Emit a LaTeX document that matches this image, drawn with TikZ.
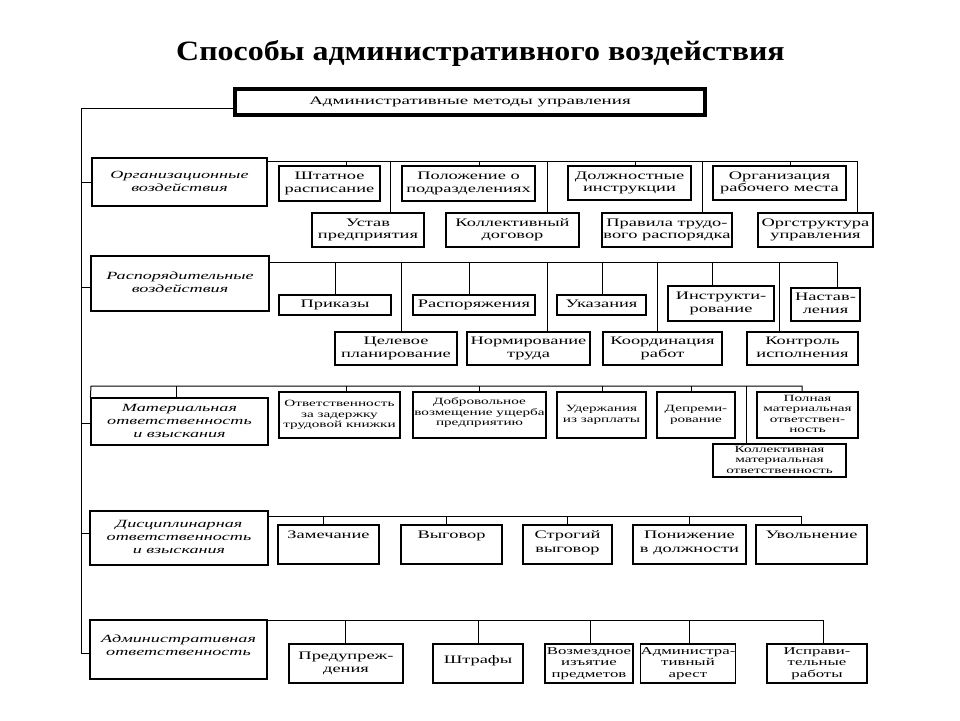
\documentclass[tikz,border=0pt]{standalone}
\usepackage{fontspec}
\setmainfont{Liberation Serif}
\usepackage{graphicx}
\newcommand\tx[2][1.6]{\scalebox{#1}[1]{\begin{tabular}{@{}c@{}}#2\end{tabular}}}
\newcommand\ti[1]{\scalebox{1.65}[1]{\begin{tabular}{@{}c@{}}#1\end{tabular}}}
\begin{document}
\begin{tikzpicture}[x=1pt,y=-1pt,
  bx/.style n args={2}{draw, line width=1.2pt, inner sep=0pt, minimum width=#1pt, minimum height=#2pt,
     font=\fontsize{11.5}{12.5}\selectfont},
  sm/.style={font=\fontsize{9.5}{10.5}\selectfont},
  cat/.style={font=\fontsize{11}{13}\selectfont\itshape},
  lbl/.style={inner sep=0pt, font=\fontsize{11.5}{13.5}\selectfont},
  ln/.style={line width=1pt}]
\useasboundingbox[fill=white] (0,0) rectangle (960,720);

\node[font=\fontsize{28}{30}\selectfont\bfseries, anchor=base] (title) at (480.5,60) {\scalebox{1.14}[1]{Способы административного воздействия}};

% top box
\node[draw, line width=4pt, minimum width=470pt, minimum height=26pt, inner sep=0pt,
      font=\fontsize{11.5}{12.5}\selectfont] (top) at (470,102) {\tx[1.65]{Административные методы управления}};

% category boxes
\node[bx={175}{48}, cat] (org)  at (179.5,182)   {\ti{Организационные\\воздействия}};
\node[bx={178}{55}, cat] (rasp) at (180,283.5)   {\ti{Распорядительные\\воздействия}};
\node[bx={177}{47}, cat] (mat)  at (179.5,421.5) {\ti{Материальная\\ответственность\\и взыскания}};
\node[bx={178}{54}, cat] (disc) at (179,538)     {\ti{Дисциплинарная\\ответственность\\и взыскания}};
\node[bx={177}{59}, cat] (adm)  at (178.5,649.5) {\ti{Административная\\ответственность\\[6pt]}};

% row 1
\node[bx={101}{35}] (shtat)   at (329.5,183.5) {\tx{Штатное\\расписание}};
\node[bx={133}{35}] (polo)    at (468.5,183.5) {\tx{Положение о\\подразделениях}};
\node[bx={123}{34}] (dolzh)   at (629.5,183)   {\tx{Должностные\\инструкции}};
\node[bx={133}{34}] (orgrab)  at (779.5,183)   {\tx{Организация\\рабочего места}};
\node[bx={112}{34}] (ustav)   at (368,230)     {\tx{Устав\\предприятия}};
\node[bx={133}{34}] (koll)    at (512.5,230)   {\tx{Коллективный\\договор}};
\node[bx={130}{34}] (pravila) at (667,230)     {\tx{Правила трудо-\\вого распорядка}};
\node[bx={115}{34}] (orgstr)  at (815.5,230)   {\tx{Оргструктура\\управления}};

% row 2
\node[bx={112}{20}] (prikazy)    at (335,305)     {\tx{Приказы}};
\node[bx={122}{20}] (rasporyazh) at (474,305)     {\tx{Распоряжения}};
\node[bx={89}{20}]  (ukaz)       at (601.5,305)   {\tx{Указания}};
\node[bx={106}{35}] (instr)      at (721,303.5)   {\tx{Инструкти-\\рование}};
\node[bx={69}{33}]  (nastav)     at (825.5,304.5) {\tx{Настав-\\ления}};
\node[bx={122}{33}] (celevoe)    at (396,348.5)   {\tx{Целевое\\планирование}};
\node[bx={123}{33}] (normir)     at (528.5,348.5) {\tx{Нормирование\\труда}};
\node[bx={119}{33}] (koord)      at (662.5,348.5) {\tx{Координация\\работ}};
\node[bx={111}{33}] (kontrol)    at (802.5,348.5) {\tx{Контроль\\исполнения}};

% row 3
\node[bx={121}{46}, sm] (otv)     at (339.5,415) {\tx{Ответственность\\за задержку\\трудовой книжки}};
\node[bx={133}{46}, sm] (dobr)    at (479.5,415) {\tx{Добровольное\\возмещение ущерба\\предприятию\\[4pt]}};
\node[bx={89}{46}, sm]  (uderzh)  at (601.5,415) {\tx{Удержания\\из зарплаты\\ }};
\node[bx={78}{46}, sm]  (deprem)  at (696,415)   {\tx{Депреми-\\рование\\ }};
\node[bx={101}{46}, sm] (poln)    at (807.5,415) {\tx{Полная\\материальная\\ответствен-\\ность}};
\node[bx={133}{33}, sm] (kollmat) at (779.5,460.5) {\tx{Коллективная\\материальная\\ответственность}};

% row 4
\node[bx={101}{39}] (zam)    at (328.5,544.5) {};
\node[bx={101}{39}] (vyg)    at (451.5,544.5) {};
\node[bx={89}{39}]  (strog)  at (567.5,544.5) {};
\node[bx={113}{39}] (ponizh) at (689.5,544.5) {};
\node[bx={111}{39}] (uvol)   at (811.5,544.5) {};
\node[lbl, anchor=north] (zamT)    at ([yshift=-4.5pt]zam.north)    {\tx{Замечание}};
\node[lbl, anchor=north] (vygT)    at ([yshift=-4.5pt]vyg.north)    {\tx{Выговор}};
\node[lbl, anchor=north] (strogT)  at ([yshift=-4.5pt]strog.north)  {\tx{Строгий\\выговор}};
\node[lbl, anchor=north] (ponizhT) at ([yshift=-4.5pt]ponizh.north) {\tx{Понижение\\в должности}};
\node[lbl, anchor=north] (uvolT)   at ([yshift=-4.5pt]uvol.north)   {\tx{Увольнение}};

% row 5
\node[bx={114}{39}] (pred)   at (346,663.5) {\tx{Предупреж-\\дения}};
\node[bx={90}{39}]  (shtraf) at (478,663.5) {\tx{Штрафы\\[6pt]}};
\node[bx={88}{39}, font=\fontsize{10.5}{11.5}\selectfont]  (vozm)  at (589,663.5) {\tx{Возмездное\\изъятие\\предметов}};
\node[bx={86}{39}, font=\fontsize{10.5}{11.5}\selectfont]  (arest) at (688,663.5) {\tx{Администра-\\тивный\\арест}};
\node[bx={100}{39}, font=\fontsize{10.5}{11.5}\selectfont] (ispr)  at (817,663.5) {\tx{Исправи-\\тельные\\работы}};

% trunk
\coordinate (t0) at (81,108);
\coordinate (t5) at (81,653);
\draw[ln] (t0 -| top.west) -- (t0) -- (t5) -- (t5 -| adm.west);
\draw[ln] (org.west) -- (org.west -| t0);
\draw[ln] ([yshift=-3.5pt]rasp.west) -- ([yshift=-3.5pt]rasp.west -| t0);
\draw[ln] ([yshift=-1.5pt]mat.west) -- ([yshift=-1.5pt]mat.west -| t0);
\draw[ln] ([yshift=5pt]disc.west) -- ([yshift=5pt]disc.west -| t0);

% bus 1
\coordinate (b1) at (267,161);
\coordinate (b1e) at (857,161);
\draw[ln] (b1) -- (b1e) -- (b1e |- orgstr.north);
\foreach \n/\x in {shtat/346, polo/479, dolzh/635, orgrab/790, ustav/390, koll/547, pravila/702}{
  \coordinate (tk) at (\x,161);
  \draw[ln] (tk) -- (tk |- \n.north);
}
% bus 2
\coordinate (b2) at (269,262);
\coordinate (b2e) at (837,262);
\draw[ln] (b2) -- (b2e) -- (b2e |- nastav.north);
\foreach \n/\x in {prikazy/335, rasporyazh/469, ukaz/602, instr/712, celevoe/401, normir/547, koord/657, kontrol/779}{
  \coordinate (tk) at (\x,262);
  \draw[ln] (tk) -- (tk |- \n.north);
}
% bus 3
\coordinate (b3) at (91,386);
\coordinate (b3e) at (802,386);
\draw[ln] (mat.north west) -- (b3) -- (b3e) -- (b3e |- poln.north);
\foreach \n/\x in {mat/176, otv/346, dobr/479, uderzh/602, deprem/691, kollmat/746}{
  \coordinate (tk) at (\x,386);
  \draw[ln] (tk) -- (tk |- \n.north);
}
% bus 4
\coordinate (b4) at (268,516);
\coordinate (b4e) at (801,516);
\draw[ln] (b4) -- (b4e) -- (b4e |- uvol.north);
\foreach \n/\x in {zam/323, vyg/446, strog/567, ponizh/689}{
  \coordinate (tk) at (\x,516);
  \draw[ln] (tk) -- (tk |- \n.north);
}
% bus 5
\coordinate (b5) at (267,620);
\coordinate (b5e) at (823,620);
\draw[ln] (b5) -- (b5e) -- (b5e |- ispr.north);
\foreach \n/\x in {pred/345, shtraf/478, vozm/590, arest/689}{
  \coordinate (tk) at (\x,620);
  \draw[ln] (tk) -- (tk |- \n.north);
}
\end{tikzpicture}
\end{document}
